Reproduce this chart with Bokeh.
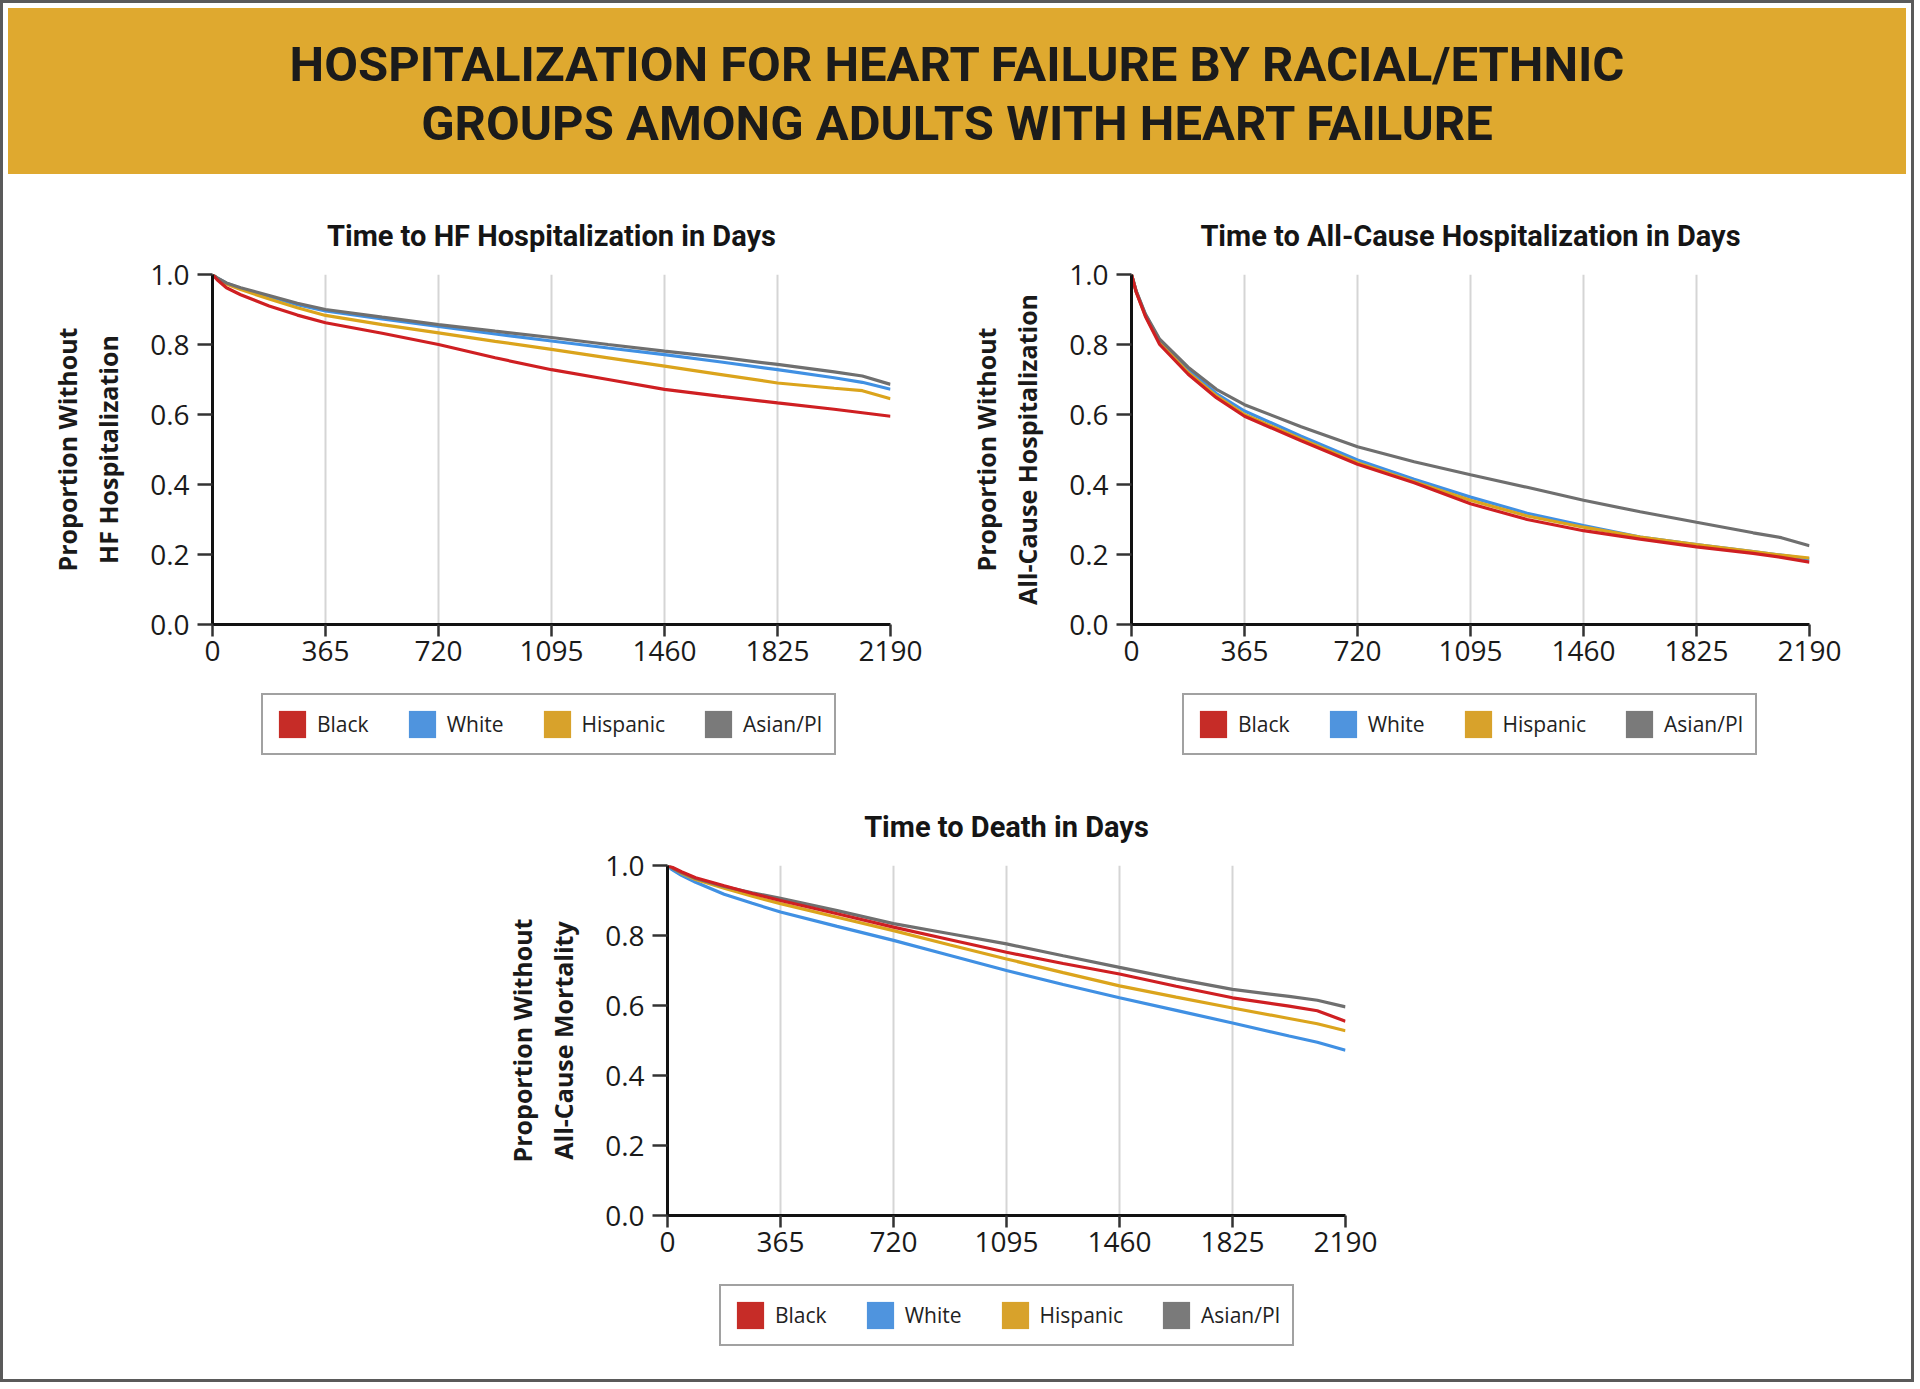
from bokeh.plotting import figure
from bokeh.models import (ColumnDataSource, Legend, LegendItem, FixedTicker,
                          Range1d, PrintfTickFormatter, Div)
from bokeh.layouts import column, row
from bokeh.embed import file_html
from bokeh.resources import INLINE

# ---------------- data ----------------
GROUPS = ["Black", "White", "Hispanic", "Asian/PI"]
DAYS = [0, 15, 45, 91, 183, 274, 365, 548, 730, 913, 1095, 1278, 1460, 1643, 1825, 2008, 2099, 2190]

X_TICKS = [0, 365, 730, 1095, 1460, 1825, 2190]
X_TICK_LABELS = ["0", "365", "720", "1095", "1460", "1825", "2190"]
Y_TICKS = [0.0, 0.2, 0.4, 0.6, 0.8, 1.0]

# Time to HF hospitalization
HF_BLACK = [1.0, 0.985, 0.962, 0.942, 0.910, 0.884, 0.862, 0.832, 0.800, 0.762, 0.728, 0.700, 0.672, 0.652, 0.633, 0.615, 0.605, 0.595]
HF_WHITE = [1.0, 0.990, 0.975, 0.960, 0.937, 0.914, 0.896, 0.873, 0.852, 0.830, 0.810, 0.790, 0.771, 0.750, 0.728, 0.705, 0.692, 0.672]
HF_HISP = [1.0, 0.990, 0.973, 0.957, 0.930, 0.905, 0.883, 0.857, 0.833, 0.809, 0.786, 0.762, 0.738, 0.714, 0.690, 0.675, 0.668, 0.645]
HF_ASIAN = [1.0, 0.990, 0.976, 0.962, 0.940, 0.918, 0.900, 0.878, 0.857, 0.838, 0.820, 0.800, 0.781, 0.763, 0.743, 0.722, 0.710, 0.686]

# Time to all-cause hospitalization
AC_BLACK = [1.0, 0.950, 0.880, 0.800, 0.715, 0.648, 0.595, 0.525, 0.458, 0.405, 0.345, 0.300, 0.268, 0.244, 0.222, 0.203, 0.192, 0.178]
AC_WHITE = [1.0, 0.952, 0.885, 0.810, 0.728, 0.660, 0.610, 0.538, 0.470, 0.415, 0.364, 0.318, 0.283, 0.250, 0.228, 0.208, 0.198, 0.187]
AC_HISP = [1.0, 0.951, 0.882, 0.805, 0.720, 0.653, 0.600, 0.530, 0.462, 0.408, 0.355, 0.310, 0.278, 0.250, 0.228, 0.208, 0.198, 0.190]
AC_ASIAN = [1.0, 0.953, 0.887, 0.815, 0.735, 0.672, 0.628, 0.565, 0.508, 0.465, 0.428, 0.392, 0.355, 0.322, 0.292, 0.262, 0.248, 0.225]

# Time to death
DE_BLACK = [1.0, 0.995, 0.982, 0.965, 0.942, 0.920, 0.900, 0.862, 0.824, 0.788, 0.752, 0.720, 0.690, 0.655, 0.622, 0.598, 0.585, 0.555]
DE_WHITE = [1.0, 0.988, 0.972, 0.952, 0.918, 0.892, 0.867, 0.826, 0.786, 0.743, 0.700, 0.660, 0.622, 0.586, 0.550, 0.513, 0.495, 0.472]
DE_HISP = [1.0, 0.993, 0.978, 0.960, 0.935, 0.912, 0.891, 0.852, 0.814, 0.773, 0.733, 0.694, 0.656, 0.624, 0.593, 0.563, 0.548, 0.528]
DE_ASIAN = [1.0, 0.993, 0.980, 0.963, 0.940, 0.922, 0.906, 0.871, 0.834, 0.805, 0.776, 0.742, 0.709, 0.676, 0.646, 0.626, 0.615, 0.596]

TITLE_LINES = ["HOSPITALIZATION FOR HEART FAILURE BY RACIAL/ETHNIC",
               "GROUPS AMONG ADULTS WITH HEART FAILURE"]
CHART_TITLES = ["Time to HF Hospitalization in Days",
                "Time to All-Cause Hospitalization in Days",
                "Time to Death in Days"]
Y_LABELS = ["Proportion Without\nHF Hospitalization",
            "Proportion Without\nAll-Cause Hospitalization",
            "Proportion Without\nAll-Cause Mortality"]

# ---------------- styles ----------------
LINE_COLORS = {"Black": "#cf1f22", "White": "#4090e3", "Hispanic": "#dba41c", "Asian/PI": "#6f6f6f"}
SWATCH = {"Black": "#c62c27", "White": "#4f94de", "Hispanic": "#d8a22b", "Asian/PI": "#7a7a7a"}
GOLD = "#dfa92f"
TITLE_FONT = "Roboto"
TICK_FONT = "Open Sans"

FRAME_W, FRAME_H = 678, 350


def make_chart(title, ylabel, src, left, right, top, bottom):
    p = figure(frame_width=FRAME_W, frame_height=FRAME_H, output_backend="svg", toolbar_location=None,
               x_range=Range1d(0, 2190), y_range=Range1d(0, 1.0),
               min_border_left=left, min_border_right=right,
               min_border_top=top, min_border_bottom=bottom,
               background_fill_color="white", border_fill_color="white")
    p.outline_line_color = None
    p.title.text = title
    p.title.align = "center"
    p.title.text_font = TITLE_FONT
    p.title.text_font_style = "bold"
    p.title.text_font_size = "29px"
    p.title.text_color = "#151515"
    p.title.standoff = 44

    for g in ["White", "Hispanic", "Asian/PI", "Black"]:
        p.line(x="day", y=g, source=src, line_width=3.2, line_color=LINE_COLORS[g])

    p.xaxis.ticker = FixedTicker(ticks=X_TICKS)
    p.xaxis.major_label_overrides = dict(zip(X_TICKS, X_TICK_LABELS))
    p.yaxis.ticker = FixedTicker(ticks=Y_TICKS)
    p.yaxis.formatter = PrintfTickFormatter(format="%.1f")
    for ax in (p.xaxis[0], p.yaxis[0]):
        ax.axis_line_width = 3
        ax.axis_line_color = "#111111"
        ax.major_tick_line_width = 2.5
        ax.major_tick_line_color = "#333333"
        ax.major_tick_in = 0
        ax.minor_tick_line_color = None
        ax.major_label_text_font = TICK_FONT
        ax.major_label_text_font_size = "28px"
        ax.major_label_text_color = "#1a1a1a"
    p.yaxis.major_tick_out = 15
    p.yaxis.major_label_standoff = 8
    p.xaxis.major_tick_out = 12
    p.xaxis.major_label_standoff = 4
    p.yaxis.axis_label = ylabel
    p.yaxis.axis_label_text_font = "Open Sans"
    p.yaxis.axis_label_text_font_style = "bold"
    p.yaxis.axis_label_text_font_size = "25px"
    p.yaxis.axis_label_text_color = "#1a1a1a"
    p.yaxis.axis_label_standoff = 22

    p.xgrid.grid_line_color = "#d5d5d5"
    p.xgrid.grid_line_width = 2
    p.ygrid.grid_line_color = None
    return p


def make_legend(src, width, height, x_off, y_off):
    lf = figure(frame_width=width, frame_height=height, output_backend="svg", toolbar_location=None,
                x_range=Range1d(0, 2190), y_range=Range1d(0, 1.0), title=None,
                x_axis_location=None, y_axis_location=None, min_border=0,
                background_fill_color="white", border_fill_color="white")
    lf.grid.grid_line_color = None
    lf.outline_line_color = None
    items = []
    for g in GROUPS:
        # zero-height area built from the series: invisible, gives a filled legend swatch
        r = lf.varea(x="day", y1=g, y2=g, source=src, fill_color=SWATCH[g])
        items.append(LegendItem(label=g, renderers=[r]))
    leg = Legend(items=items, orientation="horizontal", location=(x_off, y_off),
                 glyph_width=34, glyph_height=34, label_height=34, label_standoff=8,
                 spacing=36, padding=12, margin=0,
                 border_line_color="#444444", border_line_width=2,
                 background_fill_color="white",
                 label_text_font="Open Sans", label_text_font_size="21px",
                 label_text_color="#222222")
    lf.add_layout(leg, "center")
    return lf


def source(series):
    return ColumnDataSource(dict(day=DAYS, **{g: v for g, v in zip(GROUPS, series)}))


# ---------------- header ----------------
header_html = (
    '<div style="width:1898px;height:166px;background:%s;box-sizing:border-box;'
    'padding-top:5px;display:flex;flex-direction:column;justify-content:center;align-items:center;'
    'font-family:Roboto;font-weight:bold;font-size:49px;line-height:59px;color:#1b1b1b;">'
    '<div>%s</div><div>%s</div></div>' % (GOLD, TITLE_LINES[0], TITLE_LINES[1])
)
header = Div(text=header_html, width=1898, height=166)

s1 = source([HF_BLACK, HF_WHITE, HF_HISP, HF_ASIAN])
s2 = source([AC_BLACK, AC_WHITE, AC_HISP, AC_ASIAN])
s3 = source([DE_BLACK, DE_WHITE, DE_HISP, DE_ASIAN])

p1 = make_chart(CHART_TITLES[0], Y_LABELS[0], s1, left=209, right=62, top=95, bottom=60)
p2 = make_chart(CHART_TITLES[1], Y_LABELS[1], s2, left=179, right=92, top=95, bottom=60)
p3 = make_chart(CHART_TITLES[2], Y_LABELS[2], s3, left=664, right=556, top=88, bottom=60)

l1 = make_legend(s1, 949, 93, 258, 22)
l2 = make_legend(s2, 949, 93, 230, 22)
l3 = make_legend(s3, 1898, 104, 716, 33)

layout = column(header, row(p1, p2), row(l1, l2), row(p3), row(l3),
                styles={"border": "3px solid #5a5a5a", "background-color": "white"})

open("out.html", "w").write(file_html(layout, INLINE))
